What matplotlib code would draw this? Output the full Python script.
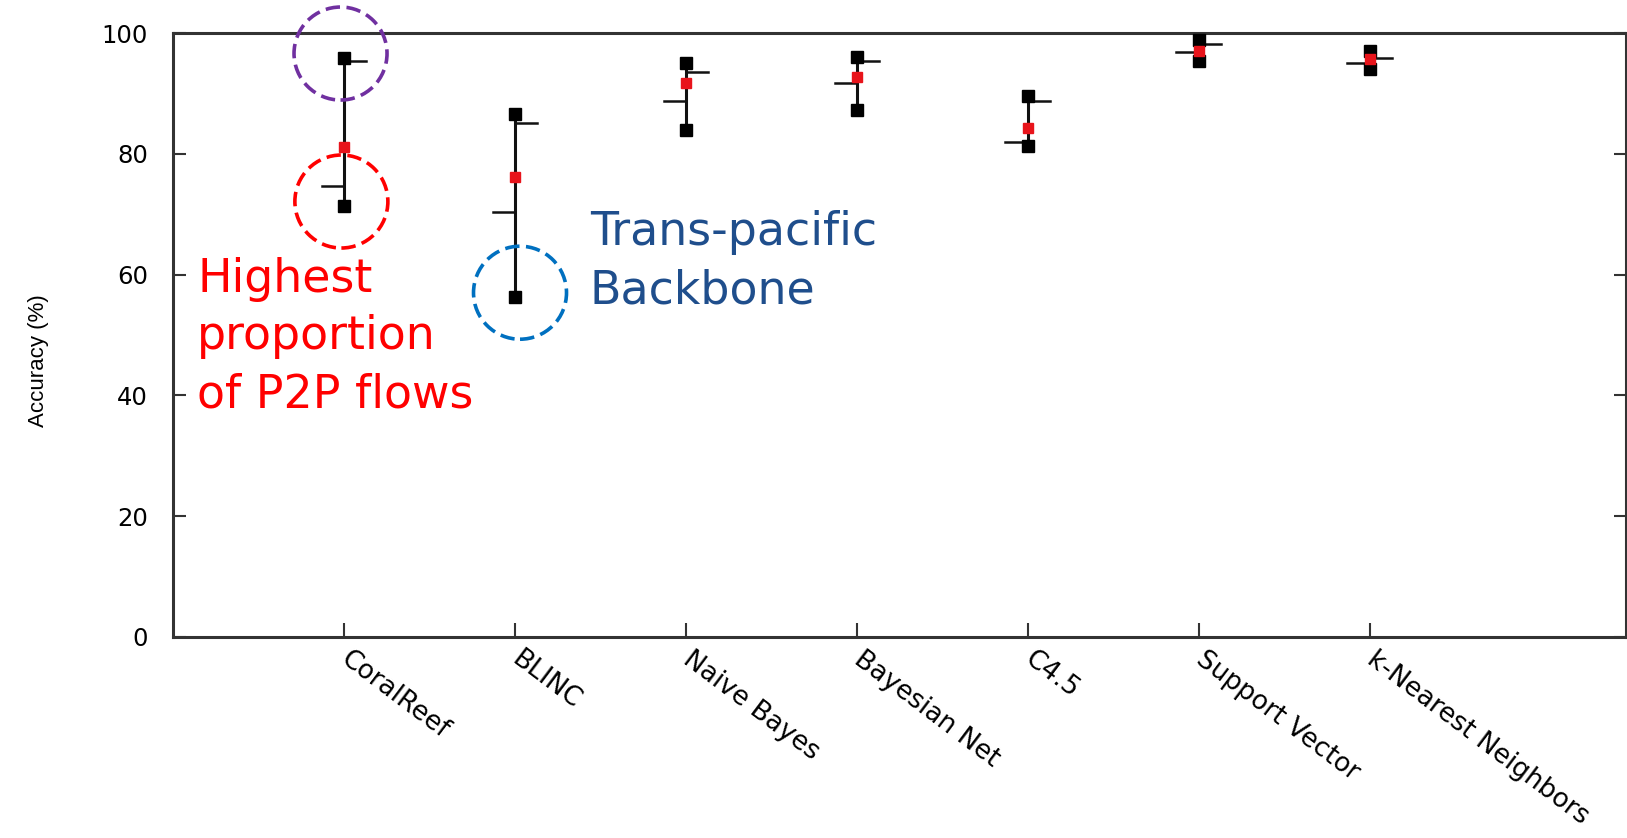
import matplotlib
matplotlib.use('Agg')
import matplotlib.pyplot as plt
from matplotlib.patches import Circle
from matplotlib.transforms import ScaledTranslation

methods = ['CoralReef', 'BLINC', 'Naive Bayes', 'Bayesian Net', 'C4.5',
           'Support Vector', 'k-Nearest Neighbors']
acc_max = [95.8, 86.6, 95.1, 96.0, 89.6, 98.9, 97.0]
acc_min = [71.4, 56.3, 84.0, 87.2, 81.3, 95.4, 94.0]
acc_mean = [81.1, 76.1, 91.8, 92.7, 84.3, 97.1, 95.7]
acc_left = [74.7, 70.4, 88.8, 91.7, 81.9, 96.9, 95.0]
acc_right = [95.3, 85.1, 93.5, 95.4, 88.8, 98.1, 95.9]
y_ticks = [0, 20, 40, 60, 80, 100]

W, H = 1627, 838
fig = plt.figure(figsize=(W / 100, H / 100), dpi=100)
ax = fig.add_axes([173 / W, 1 - 637 / H, (1626 - 173) / W, (637 - 33) / H])

xs = list(range(1, len(methods) + 1))
half = 0.13
for x, lo, hi, l, r in zip(xs, acc_min, acc_max, acc_left, acc_right):
    ax.plot([x, x], [lo, hi], color='#111111', lw=2.2, zorder=2)
    ax.plot([x - half, x], [l, l], color='#111111', lw=1.8, zorder=2)
    ax.plot([x, x + half], [r, r], color='#111111', lw=1.8, zorder=2)
ax.plot(xs, acc_max, 's', color='black', ms=8, zorder=3)
ax.plot(xs, acc_min, 's', color='black', ms=8, zorder=3)
ax.plot(xs, acc_mean, 's', color='#e8141b', ms=7.5, zorder=4)

ax.set_xlim(0, 8.5)
ax.set_ylim(0, 100)
ax.set_yticks(y_ticks)
ax.set_xticks(xs)
ax.set_xticklabels(methods, rotation=-37, ha='left', va='center',
                   rotation_mode='anchor', fontsize=19, family='DejaVu Sans')
ax.tick_params(axis='y', direction='in', length=9, width=1.5, right=True,
               pad=18, labelsize=17.5, colors='#333333')
ax.tick_params(axis='x', direction='in', length=10, width=1.5, pad=14,
               colors='#333333')
for lab in ax.get_yticklabels():
    lab.set_family('DejaVu Sans')
    lab.set_color('black')
for lab in ax.get_xticklabels():
    lab.set_color('black')
for s in ax.spines.values():
    s.set_linewidth(2.2)
    s.set_color('#333333')
ax.set_ylabel('Accuracy (%)', fontsize=16, family='Liberation Sans')
ax.yaxis.set_label_coords(-0.085, 0.457)

# dashed highlight circles
circles = [(0.98, 96.6, '#7030a0'), (0.985, 72.1, '#ff0000'), (2.03, 57.0, '#0070c0')]
for cx, cy, col in circles:
    tr = fig.dpi_scale_trans + ScaledTranslation(cx, cy, ax.transData)
    ax.add_patch(Circle((0, 0), 0.465, transform=tr, fill=False, edgecolor=col,
                        lw=2.6, linestyle=(0, (4, 1.8)), clip_on=False, zorder=5))

# multiline baseline = last line baseline
fig.text(197 / W, 1 - 407 / H, 'Highest\nproportion\nof P2P flows', color='#ff0000',
         fontsize=33, family='DejaVu Sans', va='baseline', ha='left', linespacing=1.36)
fig.text(590 / W, 1 - 303 / H, 'Trans-pacific\nBackbone', color='#1f4e8c',
         fontsize=33, family='DejaVu Sans', va='baseline', ha='left', linespacing=1.36)

fig.savefig('out.png', dpi=100)
